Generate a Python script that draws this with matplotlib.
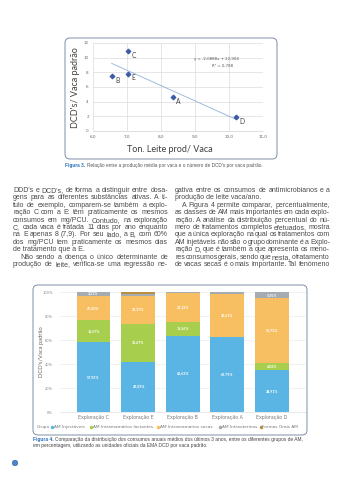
import matplotlib
matplotlib.use("Agg")
import matplotlib.pyplot as plt
from matplotlib.patches import FancyBboxPatch, Circle
from matplotlib.lines import Line2D

W, H = 342, 480

# --- Figure 3: milk yield vs DCD per standard cow ---
farms = ["A", "B", "C", "D", "E"]
milk_t = [8.34, 6.55, 7.02, 10.2, 7.02]
dcd_cow = [4.6, 7.5, 10.9, 1.87, 7.8]
slope, intercept, r2 = -2.0888, 22.904, 0.788

# --- Figure 4: share of AM groups per farm ---
explorations = ["Exploração C", "Exploração E", "Exploração B", "Exploração A", "Exploração D"]
groups = ["AM Injectáveis", "AM Intramamários lactantes", "AM Intramamários secas",
          "AM Intrauterinos", "Formas Orais AM"]
injectaveis = [57.92, 42.03, 63.63, 62.79, 34.91]
lactantes = [18.57, 31.67, 11.56, 0.0, 6.02]
secas = [20.30, 23.37, 24.12, 35.61, 53.72]
intrauterinos = [3.21, 1.5, 0.69, 1.60, 5.35]
orais = [0.0, 1.43, 0.0, 0.0, 0.0]
group_colors = ["#5bb5e4", "#a7cf4d", "#f8bf62", "#a4abb1", "#b89140"]
legend_x = [52, 91, 158, 220, 261]

left_col = [
    "DDD's e DCD's, de forma a distinguir entre dosa-",
    "gens para as diferentes substâncias ativas. A tí-",
    "tulo de exemplo, comparem-se também a explo-",
    "ração C com a E: têm praticamente os mesmos",
    "consumos em mg/PCU. Contudo, na exploração",
    "C, cada vaca é tratada 11 dias por ano enquanto",
    "na E apenas 8 (7,9). Por seu lado, a B, com 60%",
    "dos mg/PCU tem praticamente os mesmos dias",
    "de tratamento que a E.",
    "Não sendo a doença o único determinante de",
    "produção de leite, verifica-se uma regressão ne-",
]
right_col = [
    "gativa entre os consumos de antimicrobianos e a",
    "produção de leite vaca/ano.",
    "A Figura 4 permite comparar, percentualmente,",
    "as classes de AM mais importantes em cada explo-",
    "ração. A análise da distribuição percentual do nú-",
    "mero de tratamentos completos efetuados, mostra",
    "que a única exploração na qual os tratamentos com",
    "AM injetáveis não são o grupo dominante é a Explo-",
    "ração D, que é também a que apresenta os meno-",
    "res consumos gerais, sendo que nesta, o tratamento",
    "de vacas secas é o mais importante. Tal fenómeno",
]
left_last = {8}
left_indent = {9}
right_last = {1}
right_indent = {2}

fig = plt.figure(figsize=(W / 100, H / 100), dpi=100)
fig.patch.set_facecolor("white")
renderer = fig.canvas.get_renderer()


def fx(x):
    return x / W


def fy(y):
    return 1 - y / H


def ftext(x, y, s, **kw):
    kw.setdefault("va", "center")
    return fig.text(fx(x), fy(y), s, **kw)


def width_px(s, **kw):
    t = fig.text(0, 0, s, **kw)
    w = t.get_window_extent(renderer).width
    t.remove()
    return w


def frame(x0, y0, x1, y1):
    box = FancyBboxPatch((x0 / 100, (H - y1) / 100), (x1 - x0) / 100, (y1 - y0) / 100,
                         boxstyle="round,pad=0,rounding_size=0.05",
                         transform=fig.dpi_scale_trans, fc="none", ec="#7d8fa6", lw=0.7)
    fig.add_artist(box)


def justify(line, x0, x1, y, last=False, **kw):
    if last:
        ftext(x0, y, line, va="baseline", **kw)
        return
    words = line.split(" ")
    widths = [width_px(w, **kw) for w in words]
    gap = (x1 - x0 - sum(widths)) / max(len(words) - 1, 1)
    x = x0
    for w, wd in zip(words, widths):
        ftext(x, y, w, va="baseline", **kw)
        x += wd + gap


# ---------- scatter chart ----------
frame(65, 38, 277, 159)
ax1 = fig.add_axes([fx(93), fy(131), fx(263) - fx(93), fy(43) - fy(131)])
ax1.scatter(milk_t, dcd_cow, marker="D", s=5, color="#3b5ca6", zorder=3)
for f, x, y in zip(farms, milk_t, dcd_cow):
    ax1.annotate(f, (x, y), xytext=(2.5, -3), textcoords="offset points",
                 fontsize=4.8, color="#404040", family="Lato", va="center")
xs = [min(milk_t), max(milk_t)]
ax1.plot(xs, [slope * x + intercept for x in xs], color="#8fb1dc", lw=0.6, zorder=2)
ax1.text(0.86, 0.82, "y = -2,0888x + 22,904", transform=ax1.transAxes, fontsize=2.8,
         color="#555555", ha="right", va="center")
ax1.text(0.76, 0.74, "R² = 0,788", transform=ax1.transAxes, fontsize=2.8,
         color="#555555", ha="center", va="center")
ax1.set_xlim(6, 11)
ax1.set_ylim(0, 12)
ax1.set_xticks(range(6, 12))
ax1.set_xticklabels([f"{v},0" for v in range(6, 12)])
ax1.set_yticks(range(0, 13, 2))
ax1.tick_params(labelsize=3, colors="#666666", length=0, pad=3)
ax1.grid(True, color="#dcdcdc", lw=0.5)
ax1.set_axisbelow(True)
for s in ax1.spines.values():
    s.set_visible(False)
ax1.spines["bottom"].set_visible(True)
ax1.spines["bottom"].set_color("#d0d0d0")
ax1.spines["bottom"].set_linewidth(0.5)
ftext(170, 149, "Ton. Leite prod/ Vaca", fontsize=6.5, family="Lato", color="#404040", ha="center")
ftext(75, 88, "DCD's/ Vaca padrão", fontsize=6.5, family="Lato", color="#404040",
      ha="center", rotation=90)

cap3 = "Figura 3."
cw = width_px(cap3 + " ", fontsize=3.4, family="Liberation Sans", weight="bold")
ftext(65, 165, cap3, fontsize=3.4, family="Liberation Sans", weight="bold", color="#2a6fba")
ftext(65 + cw, 165, "Relação entre a produção média por vaca e o número de DCD's por vaca padrão.",
      fontsize=3.4, family="Liberation Sans", color="#555555")

# ---------- body text ----------
body = dict(fontsize=5.0, family="Liberation Sans", color="#4a4a4a")
for i, line in enumerate(left_col):
    x0 = 20 if i in left_indent else 13
    justify(line, x0, 168, 192 + i * 7.4, last=i in left_last, **body)
for i, line in enumerate(right_col):
    x0 = 182 if i in right_indent else 175
    justify(line, x0, 330, 192 + i * 7.4, last=i in right_last, **body)

# ---------- stacked bar chart ----------
frame(33, 285, 307, 435)
ax2 = fig.add_axes([fx(60), fy(412), fx(306) - fx(60), fy(292) - fy(412)])
series = [injectaveis, lactantes, secas, intrauterinos, orais]
pos = list(range(len(explorations)))
bottom = [0.0] * len(explorations)
for name, vals, col in zip(groups, series, group_colors):
    ax2.bar(pos, vals, bottom=bottom, width=0.76, color=col, label=name, zorder=2)
    for p, v, b in zip(pos, vals, bottom):
        if v >= 3:
            ax2.text(p, b + v / 2, f"{v:.2f}%".replace(".", ","), ha="center", va="center",
                     fontsize=2.6, color="white", family="Lato", weight="bold")
    bottom = [b + v for b, v in zip(bottom, vals)]
ax2.set_xlim(-0.75, 4.76)
ax2.set_ylim(0, 100)
ax2.set_xticks(pos)
ax2.set_xticklabels(explorations)
ax2.set_yticks(range(0, 101, 20))
ax2.set_yticklabels([f"{v}%" for v in range(0, 101, 20)])
ax2.tick_params(axis="x", labelsize=3.4, colors="#777777", length=0, pad=2)
ax2.tick_params(axis="y", labelsize=2.6, colors="#888888", length=0, pad=5)
ax2.grid(axis="y", color="#ececec", lw=0.5, zorder=0)
for s in ax2.spines.values():
    s.set_visible(False)
ax2.spines["bottom"].set_visible(True)
ax2.spines["bottom"].set_color("#e0e0e0")
ax2.spines["bottom"].set_linewidth(0.5)
ftext(42, 352, "DCD's/Vaca padrão", fontsize=4.2, family="Lato", color="#666666",
      ha="center", rotation=90)

# legend row: "Grupo" followed by one dot + label per group
leg_font = dict(fontsize=3.1, family="DejaVu Sans", color="#777777")
ftext(37, 427, "Grupo", **leg_font)
for name, col, lx in zip(groups, group_colors, legend_x):
    fig.add_artist(Line2D([fx(lx)], [fy(427)], ls="", marker="o", ms=1.5, color=col,
                          transform=fig.transFigure))
    ftext(lx + 1.5, 427, name, **leg_font)

cap4 = "Figura 4."
cw = width_px(cap4 + " ", fontsize=3.5, family="Liberation Sans", weight="bold")
ftext(33, 439, cap4, fontsize=3.5, family="Liberation Sans", weight="bold", color="#2a6fba")
ftext(33 + cw, 439, "Comparação da distribuição dos consumos anuais médios dos últimos 3 anos, "
      "entre os diferentes grupos de AM,", fontsize=3.5, family="Liberation Sans", color="#444444")
ftext(33, 446, "em percentagem, utilizando as unidades oficiais da EMA DCD por vaca padrão.",
      fontsize=3.5, family="Liberation Sans", color="#444444")

# page marker
fig.add_artist(Circle((15 / 100, (H - 463) / 100), 0.028, transform=fig.dpi_scale_trans,
                      fc="#4a86c8", ec="#2f65a8", lw=0.4))

fig.savefig("out.png", dpi=100)
